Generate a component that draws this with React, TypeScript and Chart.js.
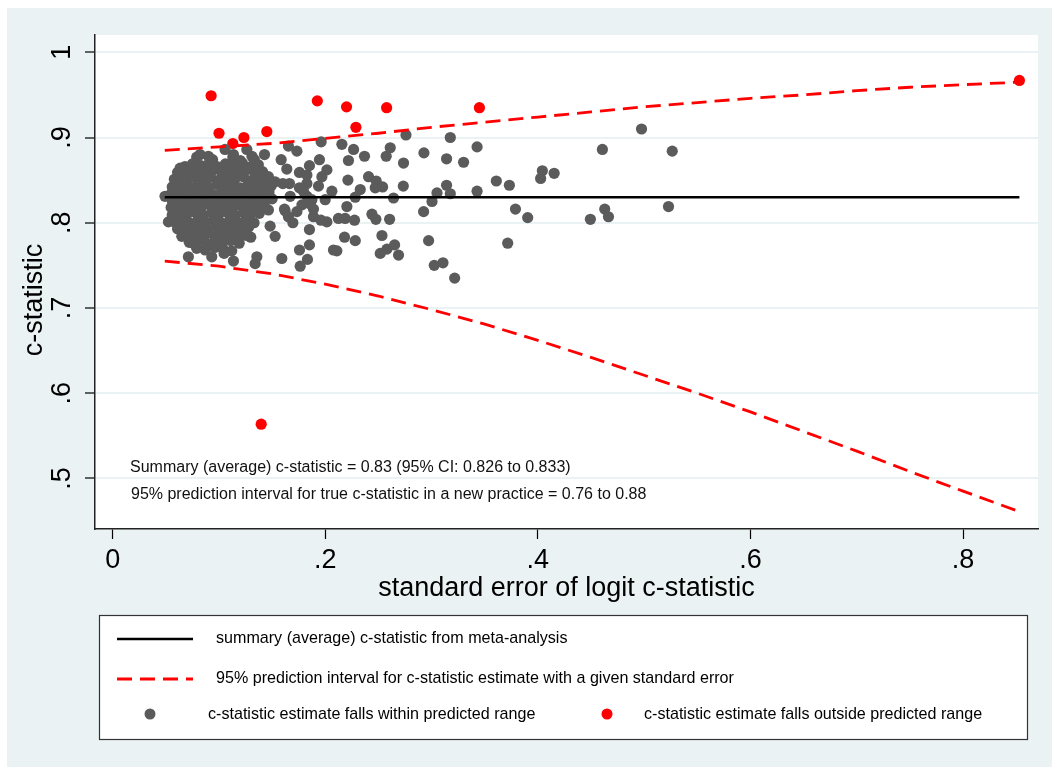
import { useEffect, useRef } from "react";
import { Chart, registerables } from "chart.js";

Chart.register(...registerables);

const FONT = "'Liberation Sans', Arial, Helvetica, sans-serif";
const BG = "#eaf2f3";
const GRAY = "#5b5b5b";
const RED = "#ff0000";

const xTicks = [0, 0.2, 0.4, 0.6, 0.8];
const yTicks = [0.5, 0.6, 0.7, 0.8, 0.9, 1];

const summaryValue = 0.83;
const summarySE = [0.049, 0.853];

const funnelSE = [0.049, 0.1, 0.15, 0.2, 0.25, 0.3, 0.35, 0.4, 0.45, 0.5, 0.55, 0.6, 0.65, 0.7, 0.75, 0.8, 0.853];
const upperLimit = [0.885, 0.889, 0.893, 0.899, 0.905, 0.912, 0.918, 0.924, 0.93, 0.936, 0.941, 0.946, 0.95, 0.955, 0.959, 0.962, 0.965];
const lowerLimit = [0.755, 0.749, 0.74, 0.728, 0.714, 0.698, 0.681, 0.662, 0.642, 0.621, 0.6, 0.578, 0.555, 0.532, 0.508, 0.485, 0.461];

const outsidePoints: [number, number][] = [
  [0.0926, 0.949], [0.1, 0.905], [0.113, 0.893], [0.1234, 0.9], [0.145, 0.907],
  [0.1925, 0.943], [0.22, 0.936], [0.2288, 0.912], [0.2577, 0.935], [0.345, 0.935],
  [0.853, 0.967], [0.1397, 0.5636],
];

const withinSparse: [number, number][] = [
  [0.4975, 0.91], [0.4607, 0.886], [0.5264, 0.884], [0.4629, 0.816], [0.4664, 0.807], [0.4494, 0.804],
  [0.5229, 0.819], [0.4042, 0.861], [0.4026, 0.852], [0.4153, 0.858], [0.3609, 0.849], [0.3732, 0.844],
  [0.3789, 0.816], [0.3904, 0.806], [0.3716, 0.776], [0.3428, 0.889], [0.3428, 0.837], [0.3301, 0.871],
  [0.3176, 0.9], [0.3141, 0.875], [0.3141, 0.844], [0.3176, 0.834], [0.3107, 0.753], [0.3217, 0.735],
  [0.3025, 0.75], [0.2972, 0.779], [0.3051, 0.835], [0.3004, 0.825], [0.2925, 0.813], [0.2928, 0.882],
  [0.2759, 0.903], [0.2736, 0.87], [0.2734, 0.843], [0.2642, 0.829], [0.2611, 0.888], [0.2573, 0.878],
  [0.2369, 0.878], [0.2266, 0.886], [0.2156, 0.892], [0.2218, 0.873], [0.2407, 0.854], [0.2479, 0.849],
  [0.2539, 0.842], [0.247, 0.841], [0.2213, 0.85], [0.2062, 0.837], [0.2329, 0.839], [0.2282, 0.83],
  [0.2203, 0.819], [0.1999, 0.827], [0.2439, 0.81], [0.2476, 0.804], [0.2605, 0.804], [0.2124, 0.805],
  [0.2187, 0.805], [0.2275, 0.803], [0.2015, 0.801], [0.2181, 0.783], [0.2282, 0.779], [0.2533, 0.785],
  [0.2109, 0.767], [0.258, 0.769], [0.2652, 0.774], [0.2517, 0.764], [0.2689, 0.762], [0.2015, 0.862],
  [0.1961, 0.895], [0.1945, 0.874], [0.1968, 0.854], [0.1936, 0.843], [0.1827, 0.846], [0.1757, 0.841],
  [0.1663, 0.846], [0.1601, 0.846], [0.167, 0.831], [0.1827, 0.831], [0.1858, 0.822], [0.1622, 0.814],
  [0.1695, 0.8], [0.1851, 0.792], [0.1757, 0.768], [0.1832, 0.757], [0.1764, 0.749], [0.1851, 0.774],
  [0.1889, 0.807], [0.1959, 0.803], [0.1653, 0.89], [0.1733, 0.884], [0.1585, 0.874], [0.1638, 0.863],
  [0.1757, 0.859], [0.1851, 0.867], [0.1827, 0.856], [0.1795, 0.837], [0.1528, 0.848], [0.1465, 0.854],
  [0.1874, 0.827], [0.178, 0.821], [0.1616, 0.816], [0.1733, 0.813], [0.1889, 0.816], [0.1653, 0.807],
  [0.1465, 0.815], [0.1481, 0.796], [0.1528, 0.784], [0.1591, 0.758], [0.1356, 0.76], [0.134, 0.752],
  [0.2077, 0.768], [0.1428, 0.88], [0.1333, 0.874], [0.1262, 0.886], [0.1136, 0.88], [0.1057, 0.886],
  [0.09, 0.878], [0.0822, 0.88], [0.0634, 0.864], [0.0492, 0.831], [0.0524, 0.801], [0.065, 0.784],
  [0.0712, 0.76], [0.0759, 0.776], [0.0932, 0.76], [0.1048, 0.764], [0.1136, 0.755], [0.1239, 0.797],
  [0.1299, 0.783], [0.1168, 0.78],
];

const withinCluster: [number, number][] = [
  [0.079, 0.877], [0.094, 0.874], [0.113, 0.877], [0.12, 0.873], [0.131, 0.878],
  [0.068, 0.866], [0.075, 0.869], [0.083, 0.867], [0.091, 0.87], [0.098, 0.866], [0.106, 0.869], [0.114, 0.867], [0.122, 0.87], [0.13, 0.866], [0.137, 0.868],
  [0.061, 0.859], [0.066, 0.861], [0.072, 0.858], [0.08, 0.861], [0.087, 0.859], [0.095, 0.862], [0.103, 0.858], [0.11, 0.861], [0.118, 0.859], [0.126, 0.862], [0.134, 0.858], [0.141, 0.86],
  [0.058, 0.851], [0.064, 0.853], [0.07, 0.85], [0.077, 0.853], [0.085, 0.851], [0.092, 0.854], [0.1, 0.85], [0.107, 0.853], [0.115, 0.851], [0.123, 0.854], [0.131, 0.85], [0.138, 0.852], [0.145, 0.851],
  [0.056, 0.842], [0.062, 0.845], [0.069, 0.843], [0.076, 0.841], [0.083, 0.844], [0.09, 0.842], [0.098, 0.845], [0.105, 0.842], [0.112, 0.844], [0.12, 0.841], [0.127, 0.844], [0.135, 0.842], [0.142, 0.845], [0.149, 0.843],
  [0.055, 0.834], [0.061, 0.836], [0.067, 0.833], [0.074, 0.836], [0.081, 0.834], [0.088, 0.836], [0.095, 0.833], [0.103, 0.836], [0.11, 0.834], [0.118, 0.836], [0.125, 0.833], [0.133, 0.836], [0.14, 0.834], [0.147, 0.836],
  [0.056, 0.826], [0.063, 0.828], [0.07, 0.825], [0.077, 0.828], [0.085, 0.826], [0.092, 0.828], [0.1, 0.825], [0.107, 0.828], [0.114, 0.826], [0.122, 0.829], [0.129, 0.825], [0.137, 0.827], [0.144, 0.826], [0.15, 0.828],
  [0.055, 0.818], [0.062, 0.82], [0.069, 0.817], [0.076, 0.82], [0.083, 0.818], [0.091, 0.821], [0.098, 0.817], [0.105, 0.82], [0.113, 0.818], [0.12, 0.821], [0.128, 0.817], [0.135, 0.82], [0.142, 0.818],
  [0.056, 0.809], [0.063, 0.812], [0.07, 0.81], [0.078, 0.812], [0.085, 0.809], [0.093, 0.812], [0.1, 0.81], [0.108, 0.812], [0.115, 0.809], [0.123, 0.812], [0.13, 0.81], [0.138, 0.811],
  [0.058, 0.801], [0.065, 0.803], [0.072, 0.8], [0.08, 0.803], [0.087, 0.801], [0.095, 0.804], [0.102, 0.8], [0.11, 0.803], [0.117, 0.801], [0.125, 0.803], [0.133, 0.8],
  [0.061, 0.793], [0.068, 0.795], [0.075, 0.792], [0.083, 0.795], [0.09, 0.793], [0.098, 0.796], [0.105, 0.792], [0.113, 0.795], [0.12, 0.793], [0.128, 0.795],
  [0.066, 0.785], [0.073, 0.787], [0.081, 0.784], [0.088, 0.787], [0.096, 0.785], [0.104, 0.787], [0.111, 0.784], [0.119, 0.786], [0.126, 0.785],
  [0.072, 0.777], [0.08, 0.779], [0.088, 0.776], [0.096, 0.779], [0.103, 0.777], [0.111, 0.779], [0.119, 0.776],
  [0.079, 0.77], [0.087, 0.768], [0.096, 0.771], [0.104, 0.769], [0.112, 0.767],
];

const annotationLines = [
  "Summary (average) c-statistic = 0.83 (95% CI: 0.826 to 0.833)",
  "95% prediction interval for true c-statistic in a new practice = 0.76 to 0.88",
];
const legendLabels = [
  "summary (average) c-statistic from meta-analysis",
  "95% prediction interval for c-statistic estimate with a given standard error",
  "c-statistic estimate falls within predicted range",
  "c-statistic estimate falls outside predicted range",
];
const xTitle = "standard error of logit c-statistic";
const yTitle = "c-statistic";

const fmt = (v: number) => (v === 0 ? "0" : v === 1 ? "1" : v.toFixed(1).replace(/^0/, ""));

const decorPlugin = {
  id: "decor",
  beforeDraw(chart: any) {
    const { ctx, chartArea: a, width, height } = chart;
    ctx.save();
    ctx.fillStyle = "#ffffff";
    ctx.fillRect(0, 0, width, height);
    ctx.fillStyle = BG;
    ctx.fillRect(7, 8, width - 7, height - 8);
    ctx.fillStyle = "#ffffff";
    ctx.fillRect(a.left, a.top, a.right - a.left, a.bottom - a.top);
    ctx.restore();
  },
  afterDraw(chart: any) {
    const { ctx, chartArea: a } = chart;
    ctx.save();
    ctx.fillStyle = "#000";
    ctx.font = `27px ${FONT}`;
    ctx.textAlign = "center";
    ctx.textBaseline = "alphabetic";
    ctx.fillText(xTitle, (a.left + a.right) / 2, 596);
    ctx.save();
    ctx.translate(42, 300);
    ctx.rotate(-Math.PI / 2);
    ctx.fillText(yTitle, 0, 0);
    ctx.restore();

    ctx.font = `16px ${FONT}`;
    ctx.textAlign = "left";
    ctx.fillStyle = "#111";
    ctx.fillText(annotationLines[0], 130, 472);
    ctx.fillText(annotationLines[1], 131, 499);

    const lx = 99, ly = 615, lw = 1027 - 99, lh = 739 - 615;
    ctx.fillStyle = "#fff";
    ctx.fillRect(lx, ly, lw, lh);
    ctx.strokeStyle = "#333";
    ctx.lineWidth = 1.2;
    ctx.strokeRect(lx + 0.5, ly + 0.5, lw, lh);

    const rows = [639, 679, 715];
    ctx.lineCap = "butt";
    ctx.strokeStyle = "#000";
    ctx.lineWidth = 2.5;
    ctx.beginPath();
    ctx.moveTo(117, rows[0]);
    ctx.lineTo(193, rows[0]);
    ctx.stroke();

    ctx.strokeStyle = RED;
    ctx.lineWidth = 2.8;
    ctx.setLineDash([15, 8]);
    ctx.beginPath();
    ctx.moveTo(117, rows[1]);
    ctx.lineTo(193, rows[1]);
    ctx.stroke();
    ctx.setLineDash([]);

    ctx.fillStyle = GRAY;
    ctx.beginPath();
    ctx.arc(150, rows[2] - 1, 5.5, 0, Math.PI * 2);
    ctx.fill();
    ctx.fillStyle = RED;
    ctx.beginPath();
    ctx.arc(607, rows[2] - 1, 5.5, 0, Math.PI * 2);
    ctx.fill();

    ctx.fillStyle = "#000";
    ctx.font = `16.1px ${FONT}`;
    ctx.textBaseline = "middle";
    ctx.fillText(legendLabels[0], 216, rows[0]);
    ctx.fillText(legendLabels[1], 216, rows[1]);
    ctx.fillText(legendLabels[2], 208, rows[2]);
    ctx.fillText(legendLabels[3], 644, rows[2]);
    ctx.restore();
  },
};

export default function App() {
  const ref = useRef<HTMLCanvasElement | null>(null);

  useEffect(() => {
    if (!ref.current) return;
    const toPts = (arr: [number, number][]) => arr.map(([x, y]) => ({ x, y }));
    const chart = new Chart(ref.current, {
      type: "scatter",
      data: {
        datasets: [
          {
            label: "summary",
            data: summarySE.map((x) => ({ x, y: summaryValue })),
            showLine: true,
            borderColor: "#000",
            borderWidth: 2.5,
            pointRadius: 0,
            order: 1,
          },
          {
            label: "upper",
            data: funnelSE.map((x, i) => ({ x, y: upperLimit[i] })),
            showLine: true,
            borderColor: RED,
            borderWidth: 2.8,
            borderDash: [15, 8],
            pointRadius: 0,
            order: 1,
          },
          {
            label: "lower",
            data: funnelSE.map((x, i) => ({ x, y: lowerLimit[i] })),
            showLine: true,
            borderColor: RED,
            borderWidth: 2.8,
            borderDash: [15, 8],
            pointRadius: 0,
            order: 1,
          },
          {
            label: "within",
            data: toPts([...withinCluster, ...withinSparse]),
            backgroundColor: GRAY,
            borderWidth: 0,
            pointRadius: 5.6,
            order: 2,
          },
          {
            label: "outside",
            data: toPts(outsidePoints),
            backgroundColor: RED,
            borderWidth: 0,
            pointRadius: 5.6,
            order: 2,
          },
        ],
      },
      options: {
        responsive: false,
        animation: false,
        events: [],
        layout: { padding: { top: 35, right: 14, left: 0, bottom: 0 } },
        plugins: { legend: { display: false }, tooltip: { enabled: false } },
        scales: {
          x: {
            type: "linear",
            min: -0.01665,
            max: 0.8705,
            afterBuildTicks: (s: any) => {
              s.ticks = xTicks.map((v) => ({ value: v }));
            },
            afterFit: (s: any) => {
              s.height = 238;
            },
            grid: {
              display: true,
              drawOnChartArea: false,
              drawTicks: true,
              tickLength: 10,
              tickColor: "#000",
              tickWidth: 1.2,
            },
            border: { display: true, color: "#222", width: 1.5 },
            ticks: {
              autoSkip: false,
              maxRotation: 0,
              minRotation: 0,
              padding: 5,
              color: "#000",
              font: { family: FONT, size: 27 },
              callback: (v: any) => fmt(Number(v)),
            },
          },
          y: {
            type: "linear",
            min: 0.4406,
            max: 1.0203,
            afterBuildTicks: (s: any) => {
              s.ticks = yTicks.map((v) => ({ value: v }));
            },
            afterFit: (s: any) => {
              s.width = 95;
            },
            grid: {
              display: true,
              drawOnChartArea: true,
              color: BG,
              lineWidth: 2,
              drawTicks: true,
              tickLength: 10,
              tickColor: "#000",
              tickWidth: 1.2,
            },
            border: { display: true, color: "#222", width: 1.5 },
            ticks: {
              autoSkip: false,
              minRotation: 90,
              maxRotation: 90,
              crossAlign: "center",
              padding: 10.7,
              color: "#000",
              font: { family: FONT, size: 27 },
              callback: (v: any) => fmt(Number(v)),
            },
          },
        },
      },
      plugins: [decorPlugin],
    } as any);
    return () => chart.destroy();
  }, []);

  return (
    <div style={{ position: "absolute", left: 0, top: 0, width: 1052, height: 767 }}>
      <canvas ref={ref} width={1052} height={767} style={{ display: "block", width: 1052, height: 767 }} />
    </div>
  );
}
